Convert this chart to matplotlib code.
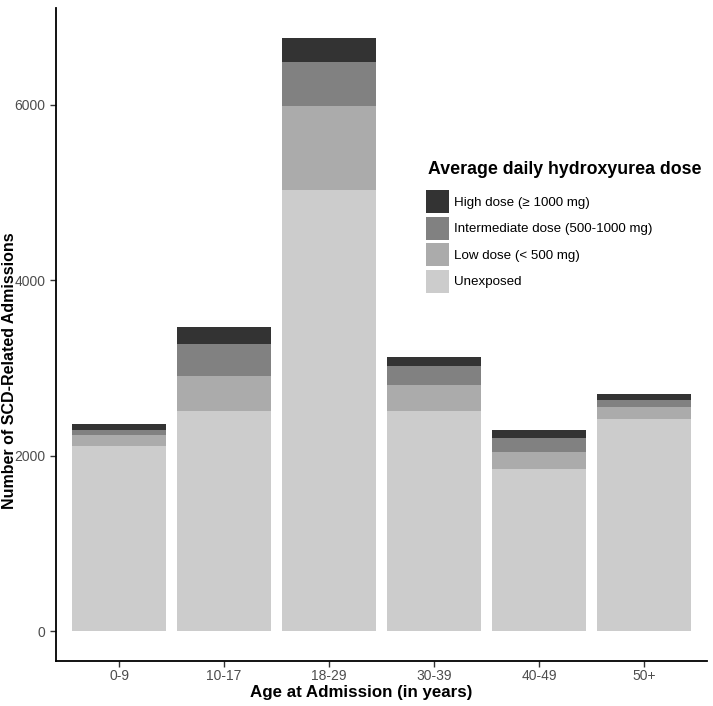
import matplotlib
matplotlib.use("Agg")
import matplotlib.pyplot as plt
from matplotlib.patches import Patch
import numpy as np

plt.rcParams['font.family'] = ['Liberation Sans', 'DejaVu Sans']

categories = ["0-9", "10-17", "18-29", "30-39", "40-49", "50+"]
unexposed = [2114, 2508, 5030, 2515, 1852, 2417]
low_dose = [125, 401, 960, 292, 197, 143]
intermediate_dose = [53, 364, 500, 212, 159, 76]
high_dose = [68, 196, 275, 103, 87, 65]

series = [
    ("Unexposed", unexposed, "#CCCCCC"),
    ("Low dose (< 500 mg)", low_dose, "#ABABAB"),
    ("Intermediate dose (500-1000 mg)", intermediate_dose, "#818181"),
    ("High dose (\u2265 1000 mg)", high_dose, "#333333"),
]

W, H = 713, 706
fig = plt.figure(figsize=(W/100, H/100), dpi=100)
ax = fig.add_axes([56/W, 45/H, (707-56)/W, (661-8)/H])

x = np.arange(1, len(categories) + 1)
bottom = np.zeros(len(categories))
for name, vals, col in series:
    ax.bar(x, vals, width=0.9, bottom=bottom, color=col, edgecolor='none', label=name)
    bottom += np.array(vals)

ax.set_xlim(0.4, len(categories) + 0.6)
total_max = bottom.max()
ax.set_ylim(-0.05 * total_max, 1.05 * total_max)
ax.set_xticks(x)
ax.set_xticklabels(categories)
ax.set_yticks([0, 2000, 4000, 6000])
ax.tick_params(axis='both', colors='#333333', labelcolor='#4D4D4D', labelsize=10, length=4, width=1)
ax.tick_params(axis='x', pad=2)
for s in ['top', 'right']:
    ax.spines[s].set_visible(False)
for s in ['left', 'bottom']:
    ax.spines[s].set_linewidth(1.3)
    ax.spines[s].set_color('black')

ax.set_xlabel("Age at Admission (in years)", fontsize=12.2, fontweight='bold')
ax.set_ylabel("Number of SCD-Related Admissions", fontsize=11.5, fontweight='bold')
ax.xaxis.set_label_coords((361-56)/651, -(692-661)/653, transform=ax.transAxes)
ax.xaxis.label.set_va('center')
ax.yaxis.set_label_coords(-(56-10)/651, (661-371)/653, transform=ax.transAxes)
ax.yaxis.label.set_va('center')

# legend title
fig.text(428/W, 1 - 170/H, "Average daily hydroxyurea dose", fontsize=12.8,
         fontweight='bold', ha='left', va='center')

fs = 9.6
fs_px = fs * 100 / 72
hh = (23 / fs_px - 0.245) / 0.65
handles = [Patch(facecolor=c, edgecolor='none', label=n) for n, v, c in series[::-1]]
leg = fig.legend(handles=handles, loc='upper left', bbox_to_anchor=(426/W, 1 - 190/H),
                 frameon=False, fontsize=fs,
                 handlelength=23 / fs_px, handleheight=hh, labelspacing=3.5 / fs_px,
                 handletextpad=0.4, borderaxespad=0, borderpad=0)

fig.savefig("out.png", dpi=100)
